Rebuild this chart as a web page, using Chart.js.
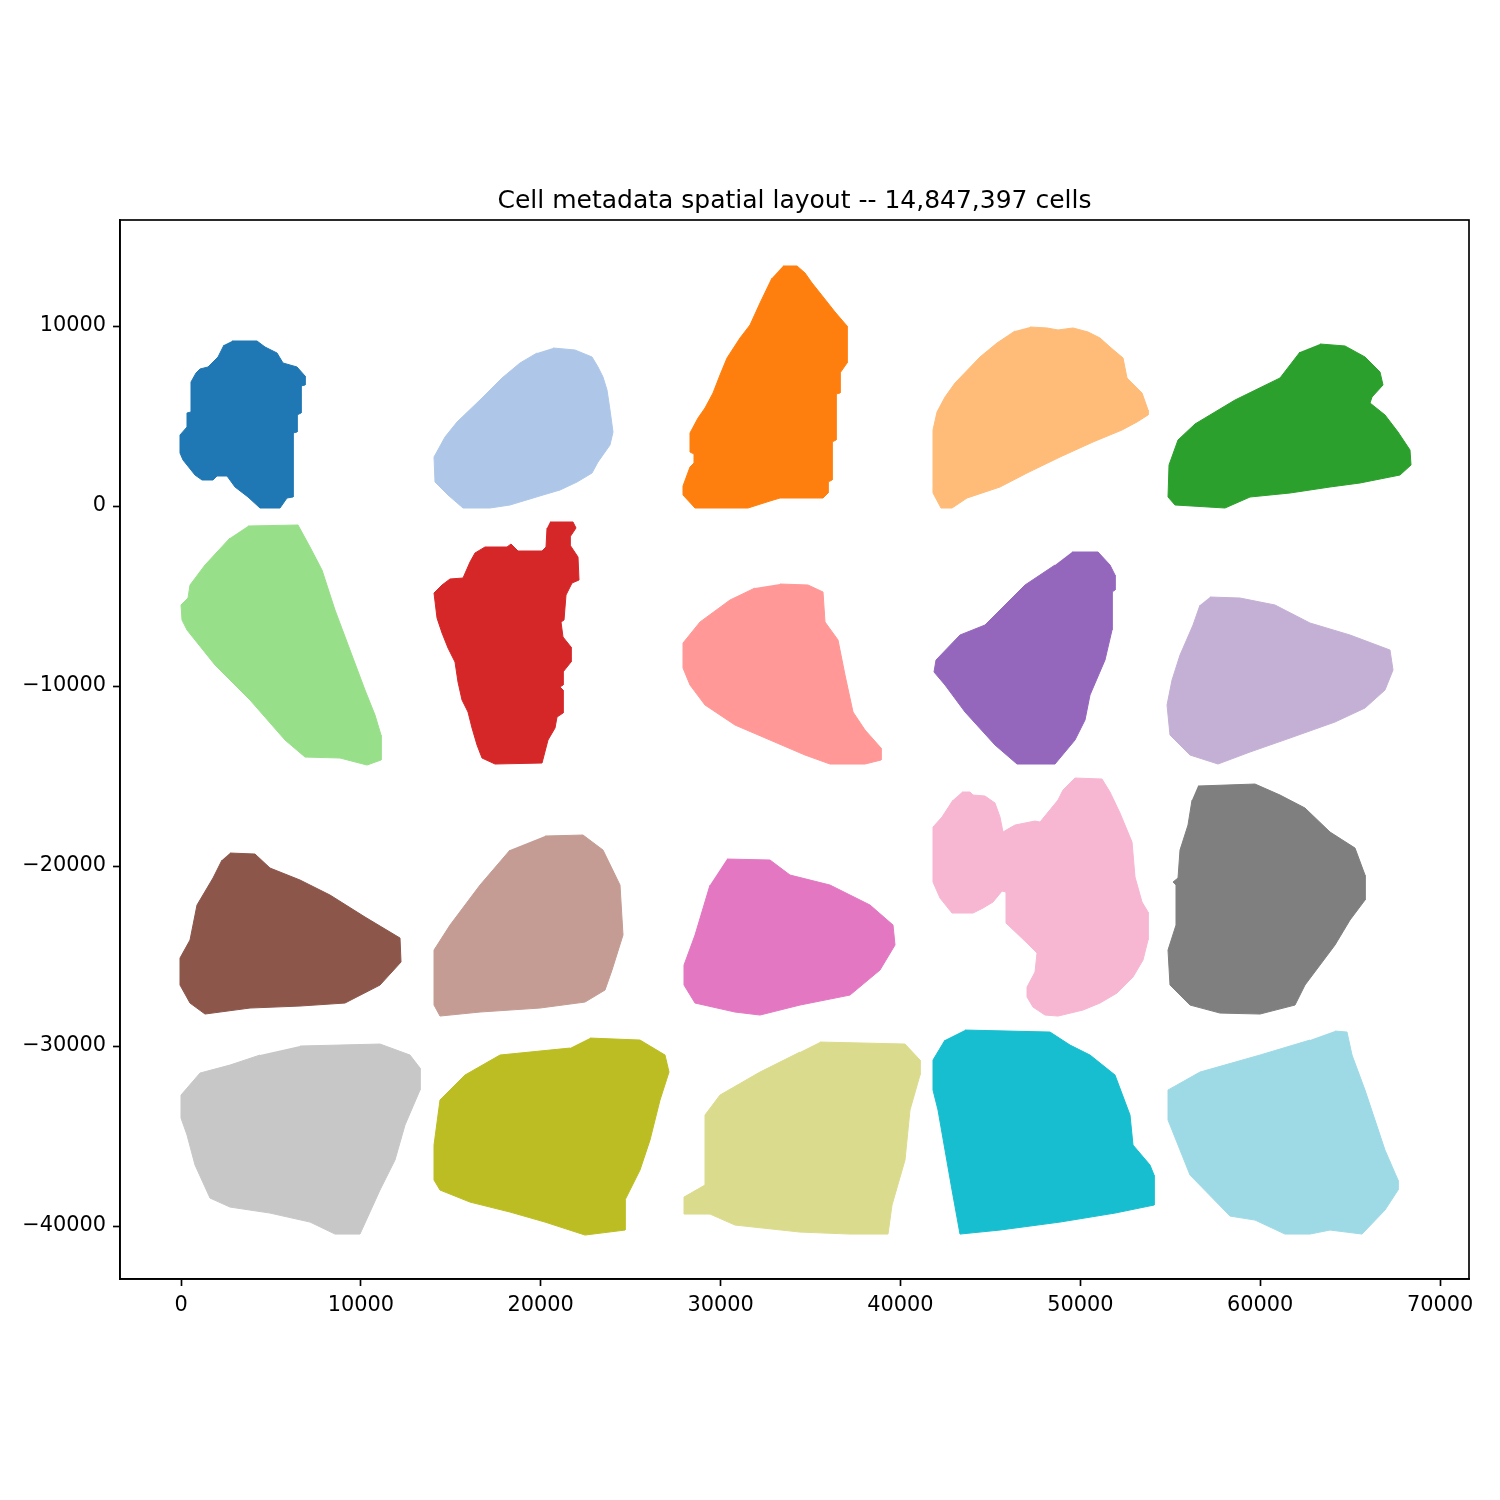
<!DOCTYPE html>
<html><head><meta charset="utf-8">
<style>html,body{margin:0;padding:0;background:#fff}canvas{display:block}</style>
<script src="https://cdn.jsdelivr.net/npm/chart.js@4/dist/chart.umd.min.js"></script>
</head><body><div style="width:1500px;height:1500px"><canvas id="c" width="1500" height="1500"></canvas></div>
<script>
const titleText = "Cell metadata spatial layout -- 14,847,397 cells";
const xTicks = [0,10000,20000,30000,40000,50000,60000,70000];
const yTicks = [10000,0,-10000,-20000,-30000,-40000];
const colors = ["#1f77b4","#aec7e8","#ff7f0e","#ffbb78","#2ca02c","#98df8a","#d62728","#ff9896","#9467bd","#c5b0d5","#8c564b","#c49c94","#e377c2","#f7b6d2","#7f7f7f","#c7c7c7","#bcbd22","#dbdb8d","#17becf","#9edae5"];

const region0 = [[2836,9167],[4226,9167],[4670,8834],[5338,8501],[5671,7945],[6450,7723],[6894,7223],[6894,6723],[6672,6667],[6672,5167],[6450,5056],[6450,4111],[6227,4056],[6227,500],[5894,444],[5504,-111],[4392,-111],[3725,500],[3002,1056],[2558,1667],[2002,1667],[1779,1445],[1168,1445],[778,1722],[111,2556],[-56,2945],[-56,3945],[334,4389],[334,5167],[556,5223],[556,6889],[834,7389],[1056,7612],[1501,7723],[2057,8278],[2391,8945]];
const region1 = [[20683,8778],[21906,8667],[22852,8278],[23185,7723],[23463,7167],[23686,6445],[23852,5334],[24019,4111],[23852,3389],[23185,2445],[22852,1833],[22018,1333],[21072,889],[20127,611],[18292,56],[17180,-111],[15679,-111],[14845,611],[14122,1333],[14067,2722],[14678,3834],[15346,4667],[16736,6000],[17848,7112],[18848,7945],[19794,8501]];
const region2 = [[33471,13334],[34250,13334],[34694,12945],[35084,12390],[35528,11834],[36362,10779],[37030,10001],[37030,7945],[36640,7389],[36640,6278],[36418,6223],[36418,3667],[36196,3556],[36196,1445],[35973,1333],[35973,722],[35695,444],[33304,444],[32748,278],[31525,-111],[28578,-111],[27911,611],[27911,1111],[28300,2167],[28523,2389],[28523,2889],[28300,3000],[28300,4056],[28745,4889],[29134,5445],[29579,6278],[29968,7278],[30358,8223],[31080,9334],[31636,10056],[32192,11279],[32860,12667]];
const region3 = [[47204,9945],[48150,9890],[48761,9779],[49595,9890],[50429,9667],[51096,9334],[51652,8834],[52375,8223],[52598,7112],[53432,6278],[53765,5334],[53765,5056],[53154,4667],[52320,4223],[50707,3556],[48872,2722],[47038,1833],[45536,1056],[43702,444],[42868,-111],[42256,-111],[41811,722],[41811,4223],[42034,5223],[42478,6056],[43034,6834],[44424,8278],[45370,9056],[46370,9723]];
const region4 = [[63328,9001],[64718,8890],[65830,8278],[66664,7445],[66831,6723],[66220,6056],[66108,5723],[66942,5056],[67665,4111],[68332,3111],[68388,2278],[67776,1722],[65552,1278],[63884,1056],[61660,722],[59436,500],[58046,-111],[55266,56],[54877,500],[54933,2278],[55433,3667],[56378,4556],[58602,5889],[61104,7112],[62216,8556]];
const region5 = [[3725,-1111],[6505,-1056],[7172,-2278],[7840,-3556],[8562,-5778],[9396,-8001],[10230,-10223],[10786,-11612],[11120,-12723],[11120,-14112],[10342,-14390],[8840,-14001],[6894,-13946],[5782,-13001],[3836,-10779],[1890,-8834],[334,-6889],[56,-6334],[0,-5500],[389,-5112],[500,-4389],[1334,-3278],[2724,-1778]];
const region6 = [[20516,-889],[21795,-889],[21962,-1222],[21628,-1722],[21628,-2167],[22073,-2834],[22129,-4111],[21740,-4278],[21406,-4945],[21295,-6334],[21128,-6445],[21239,-7278],[21684,-7834],[21684,-8667],[21239,-9223],[21239,-9945],[21072,-10056],[21239,-10223],[21239,-11501],[20906,-11723],[20794,-12334],[20405,-13001],[20072,-14279],[17458,-14334],[16736,-14001],[16458,-13279],[16180,-12334],[15957,-11445],[15624,-10779],[15401,-9779],[15234,-8667],[14845,-7890],[14512,-7056],[14234,-6223],[14067,-4834],[14512,-4389],[14956,-4056],[15679,-4000],[16068,-3111],[16346,-2611],[16902,-2278],[18126,-2278],[18348,-2111],[18737,-2500],[20072,-2500],[20294,-2278],[20350,-1222]];
const region7 = [[33304,-4334],[34861,-4389],[35695,-4778],[35806,-6445],[36529,-7445],[36918,-9390],[37363,-11445],[38030,-12445],[38920,-13445],[38920,-14112],[38030,-14334],[36084,-14334],[34694,-13834],[32748,-13001],[30802,-12168],[29134,-11056],[28300,-9945],[27911,-9001],[27911,-7612],[28856,-6445],[30524,-5223],[31914,-4556]];
const region8 = [[49540,-2556],[50985,-2556],[51652,-3278],[51930,-3834],[51930,-4667],[51764,-4778],[51764,-6889],[51374,-8556],[50540,-10501],[50262,-11890],[49706,-13001],[48594,-14334],[46482,-14334],[45258,-13279],[43590,-11445],[42478,-9945],[41867,-9223],[41978,-8556],[43312,-7167],[44702,-6612],[46926,-4389],[48594,-3278]];
const region9 = [[57212,-5056],[58880,-5112],[60826,-5500],[62772,-6501],[64996,-7167],[67220,-8001],[67387,-9112],[66942,-10223],[65830,-11223],[64162,-12001],[61660,-12890],[59436,-13668],[57657,-14334],[56100,-13834],[54988,-12723],[54822,-11056],[55100,-9667],[55544,-8278],[56267,-6612],[56656,-5500]];
const region10 = [[2724,-19279],[4114,-19335],[4948,-20113],[6616,-20779],[8284,-21613],[10230,-22835],[12176,-24002],[12232,-25335],[11064,-26613],[9118,-27613],[6616,-27780],[3836,-27891],[1334,-28224],[500,-27613],[-56,-26613],[-56,-25113],[500,-24113],[890,-22168],[1779,-20668],[2280,-19668]];
const region11 = [[20238,-18335],[22351,-18279],[23463,-19113],[24408,-21057],[24575,-23835],[23964,-25780],[23574,-26891],[22462,-27558],[19960,-27891],[16624,-28113],[14400,-28336],[14067,-27724],[14067,-24669],[14956,-23280],[16624,-21057],[18292,-19113]];
const region12 = [[30358,-19613],[32748,-19668],[33860,-20502],[36084,-21057],[38308,-22168],[39587,-23280],[39698,-24391],[38864,-25780],[37196,-27169],[34416,-27724],[32192,-28280],[30802,-28113],[28578,-27613],[27967,-26613],[27967,-25502],[28578,-23835],[29412,-21057]];
const region13 = [[43424,-15890],[43868,-15890],[44035,-16057],[44702,-16112],[45258,-16501],[45536,-17279],[45703,-18113],[45981,-17946],[46370,-17724],[47482,-17501],[47760,-17557],[48761,-16335],[49039,-15779],[49706,-15112],[51208,-15168],[51652,-15890],[52208,-17057],[52876,-18668],[53042,-20613],[53432,-22002],[53765,-22557],[53765,-24113],[53487,-25224],[52931,-26169],[52042,-27058],[51096,-27613],[50151,-28002],[48761,-28336],[48038,-28280],[47371,-27836],[47038,-27280],[47038,-26724],[47482,-25891],[47594,-24835],[47038,-24280],[45870,-23169],[45870,-21446],[45648,-21391],[45147,-22002],[44591,-22335],[44035,-22613],[42868,-22613],[42200,-21780],[41811,-20891],[41811,-17835],[42312,-17279],[42923,-16335]];
const region14 = [[56545,-15557],[59714,-15446],[61104,-16057],[62494,-16779],[63884,-18113],[65274,-19002],[65830,-20502],[65830,-21891],[64996,-23002],[64162,-24391],[63328,-25502],[62494,-26613],[61938,-27724],[59992,-28224],[57768,-28169],[56100,-27724],[54988,-26613],[54877,-24669],[55322,-23280],[55322,-21057],[55155,-20891],[55433,-20668],[55544,-19113],[55989,-17724],[56212,-16335]];
const region15 = [[6616,-30002],[11064,-29891],[12732,-30502],[13288,-31225],[13288,-32447],[12454,-34392],[11898,-36336],[11064,-38003],[9952,-40448],[8562,-40448],[7172,-39781],[4948,-39281],[2724,-38948],[1612,-38448],[778,-36614],[334,-34947],[0,-34003],[0,-32725],[1056,-31503],[2724,-31058],[4392,-30502]];
const region16 = [[22740,-29558],[25520,-29669],[26910,-30502],[27133,-31447],[26632,-33003],[26076,-35225],[25520,-36892],[24686,-38559],[24686,-40225],[22462,-40503],[20238,-39781],[18292,-39225],[16068,-38670],[14400,-38003],[14067,-37447],[14067,-35503],[14400,-33003],[15790,-31614],[17736,-30502],[21628,-30114]];
const region17 = [[35528,-29780],[40254,-29891],[41088,-30780],[41088,-31614],[40532,-33558],[40254,-36336],[39532,-38836],[39309,-40448],[37196,-40448],[34416,-40337],[30802,-39948],[29412,-39336],[27967,-39336],[27967,-38392],[29134,-37725],[29134,-33836],[29968,-32725],[32192,-31447],[34416,-30336]];
const region18 = [[43590,-29113],[48316,-29225],[49428,-29947],[50540,-30502],[51930,-31614],[52764,-33836],[52931,-35503],[53876,-36614],[54099,-37170],[54099,-38836],[51930,-39281],[48872,-39781],[45536,-40225],[43312,-40448],[42868,-38003],[42478,-35781],[42089,-33558],[41811,-32447],[41811,-30780],[42478,-29669]];
const region19 = [[64162,-29169],[64830,-29225],[65108,-30502],[65830,-32447],[66942,-35781],[67665,-37447],[67665,-38003],[66942,-39114],[65664,-40448],[63884,-40225],[62772,-40448],[61382,-40448],[59714,-39670],[58324,-39448],[56100,-37170],[55100,-34669],[54877,-34114],[54877,-32447],[56656,-31447],[59992,-30502],[62772,-29669]];

const regions = [region0,region1,region2,region3,region4,region5,region6,region7,region8,region9,region10,region11,region12,region13,region14,region15,region16,region17,region18,region19];

const AXIS = "#000000";
const AW = 1.67;
const frame = {
  id:"frame",
  afterDraw(ch){
    const a = ch.chartArea, g = ch.ctx;
    g.save(); g.strokeStyle = AXIS; g.lineWidth = AW;
    g.strokeRect(a.left, a.top, a.right-a.left, a.bottom-a.top);
    g.restore();
  }
};
const tickFont = {family:"'DejaVu Sans'", size:20.83};
new Chart(document.getElementById("c"), {
  type:"scatter",
  plugins:[frame],
  data:{datasets:regions.map((r,i)=>({
    label:"region "+i, data:r, showLine:true, fill:"shape", tension:0,
    backgroundColor:colors[i], borderColor:colors[i], borderWidth:1, pointRadius:0, pointHoverRadius:0
  }))},
  options:{
    responsive:false, animation:false, events:[],
    layout:{padding:{top:0,left:0,right:31,bottom:0}},
    plugins:{
      legend:{display:false}, tooltip:{enabled:false},
      title:{display:true,text:titleText,color:"#000",fullSize:false,
        font:{family:"'DejaVu Sans'",size:25,weight:"normal"},
        padding:{top:186,bottom:4}}
    },
    scales:{
      x:{type:"linear",min:-3392,max:71612,
        grid:{drawOnChartArea:false,drawTicks:true,tickLength:7,tickColor:AXIS,tickWidth:AW},
        border:{color:AXIS,width:AW},
        afterBuildTicks(s){s.ticks=xTicks.map(v=>({value:v}));},
        afterFit(s){s.height=221;},
        ticks:{color:"#000",font:tickFont,padding:7,autoSkip:false,maxRotation:0,callback:v=>String(v).replace("-","\u2212")}},
      y:{type:"linear",min:-42944,max:15889,
        grid:{drawOnChartArea:false,drawTicks:true,tickLength:7,tickColor:AXIS,tickWidth:AW},
        border:{color:AXIS,width:AW},
        afterBuildTicks(s){s.ticks=yTicks.map(v=>({value:v}));},
        afterFit(s){s.width=120;},
        ticks:{color:"#000",font:tickFont,padding:7,autoSkip:false,maxRotation:0,callback:v=>String(v).replace("-","\u2212")}}
    }
  }
});
</script></body></html>
